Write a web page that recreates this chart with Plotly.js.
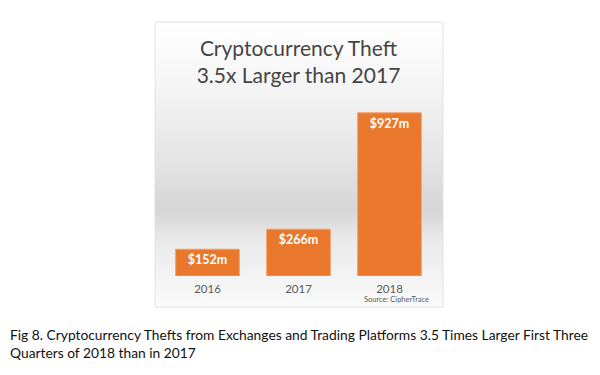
<!DOCTYPE html>
<html>
<head>
<meta charset="utf-8">
<script src="https://cdn.plot.ly/plotly-3.0.1.min.js"></script>
<style>html,body{margin:0;padding:0;background:#fff;}#chart{width:600px;height:375px;}</style>
</head>
<body>
<div id="chart"></div>
<script>
const years = ["2016", "2017", "2018"];
const thefts = [152, 266, 927];
const barLabels = ["$152m", "$266m", "$927m"];
const chartTitle = "Cryptocurrency Theft<br>3.5x Larger than 2017";
const sourceNote = "Source: CipherTrace";
const caption = "Fig 8. Cryptocurrency Thefts from Exchanges and Trading Platforms 3.5 Times Larger First Three<br>Quarters of 2018 than in 2017";

const W = 600, H = 375, ml = 162, mr = 165, mt = 100, mb = 99;
const pw = W - ml - mr, ph = H - mt - mb;
const px = x => (x - ml) / pw;
const py = y => (H - mb - y) / ph;

const grad = '<svg xmlns="http://www.w3.org/2000/svg" width="100" height="100" preserveAspectRatio="none">' +
  '<defs><linearGradient id="g" x1="0" y1="0" x2="0" y2="1">' +
  '<stop offset="0" stop-color="#ffffff"/>' +
  '<stop offset="0.2" stop-color="#f6f6f6"/>' +
  '<stop offset="0.5" stop-color="#e3e3e3"/>' +
  '<stop offset="0.66" stop-color="#d5d5d5"/>' +
  '<stop offset="0.76" stop-color="#e9e9e9"/>' +
  '<stop offset="1" stop-color="#fbfbfb"/>' +
  '</linearGradient></defs><rect width="100" height="100" fill="url(#g)"/></svg>';
const gradURI = 'data:image/svg+xml;base64,' + btoa(grad);

const trace = {
  type: 'bar',
  x: years,
  y: thefts,
  text: barLabels,
  textposition: 'inside',
  insidetextanchor: 'end',
  textangle: 0,
  constraintext: 'none',
  textfont: {family: 'Lato, sans-serif', size: 12.5, color: '#ffffff', weight: 'bold'},
  marker: {color: '#ea782c', line: {color: '#f3a16a', width: 1}},
  hoverinfo: 'none'
};

const layout = {
  width: W, height: H,
  margin: {l: ml, r: mr, t: mt, b: mb, pad: 0},
  paper_bgcolor: '#ffffff',
  plot_bgcolor: 'rgba(0,0,0,0)',
  bargap: 0.3,
  showlegend: false,
  title: {
    text: chartTitle,
    font: {family: 'Lato, sans-serif', size: 21, color: '#454545', weight: 400},
    x: 0.5, xref: 'paper', xanchor: 'center',
    y: 1 - 56 / H, yref: 'container', yanchor: 'middle'
  },
  xaxis: {
    type: 'category',
    showgrid: false, zeroline: false, showline: false, ticks: '',
    tickfont: {family: 'Lato, sans-serif', size: 11.5, color: '#595959'},
    ticklabelstandoff: 4
  },
  yaxis: {
    range: [0, 1000], visible: false, showgrid: false, zeroline: false
  },
  images: [{
    source: gradURI, xref: 'paper', yref: 'paper',
    x: px(155), y: py(22), sizex: px(443) - px(155), sizey: py(22) - py(307),
    xanchor: 'left', yanchor: 'top', sizing: 'stretch', layer: 'below'
  }],
  shapes: [{
    type: 'rect', xref: 'paper', yref: 'paper',
    x0: px(155), x1: px(443), y0: py(307), y1: py(22),
    line: {color: '#e2e2e2', width: 1}, fillcolor: 'rgba(0,0,0,0)', layer: 'below'
  }],
  annotations: [
    {text: sourceNote, xref: 'paper', yref: 'paper', x: px(396), y: py(299.5),
     xanchor: 'center', yanchor: 'middle', showarrow: false,
     font: {family: 'Lato, sans-serif', size: 7.5, color: '#595959'}},
    {text: caption, xref: 'paper', yref: 'paper', x: px(8), y: py(343),
     xanchor: 'left', yanchor: 'middle', align: 'left', showarrow: false,
     font: {family: 'Lato, sans-serif', size: 13.8, color: '#111111'}}
  ]
};

Plotly.newPlot('chart', [trace], layout, {staticPlot: true, displayModeBar: false});
</script>
</body>
</html>
